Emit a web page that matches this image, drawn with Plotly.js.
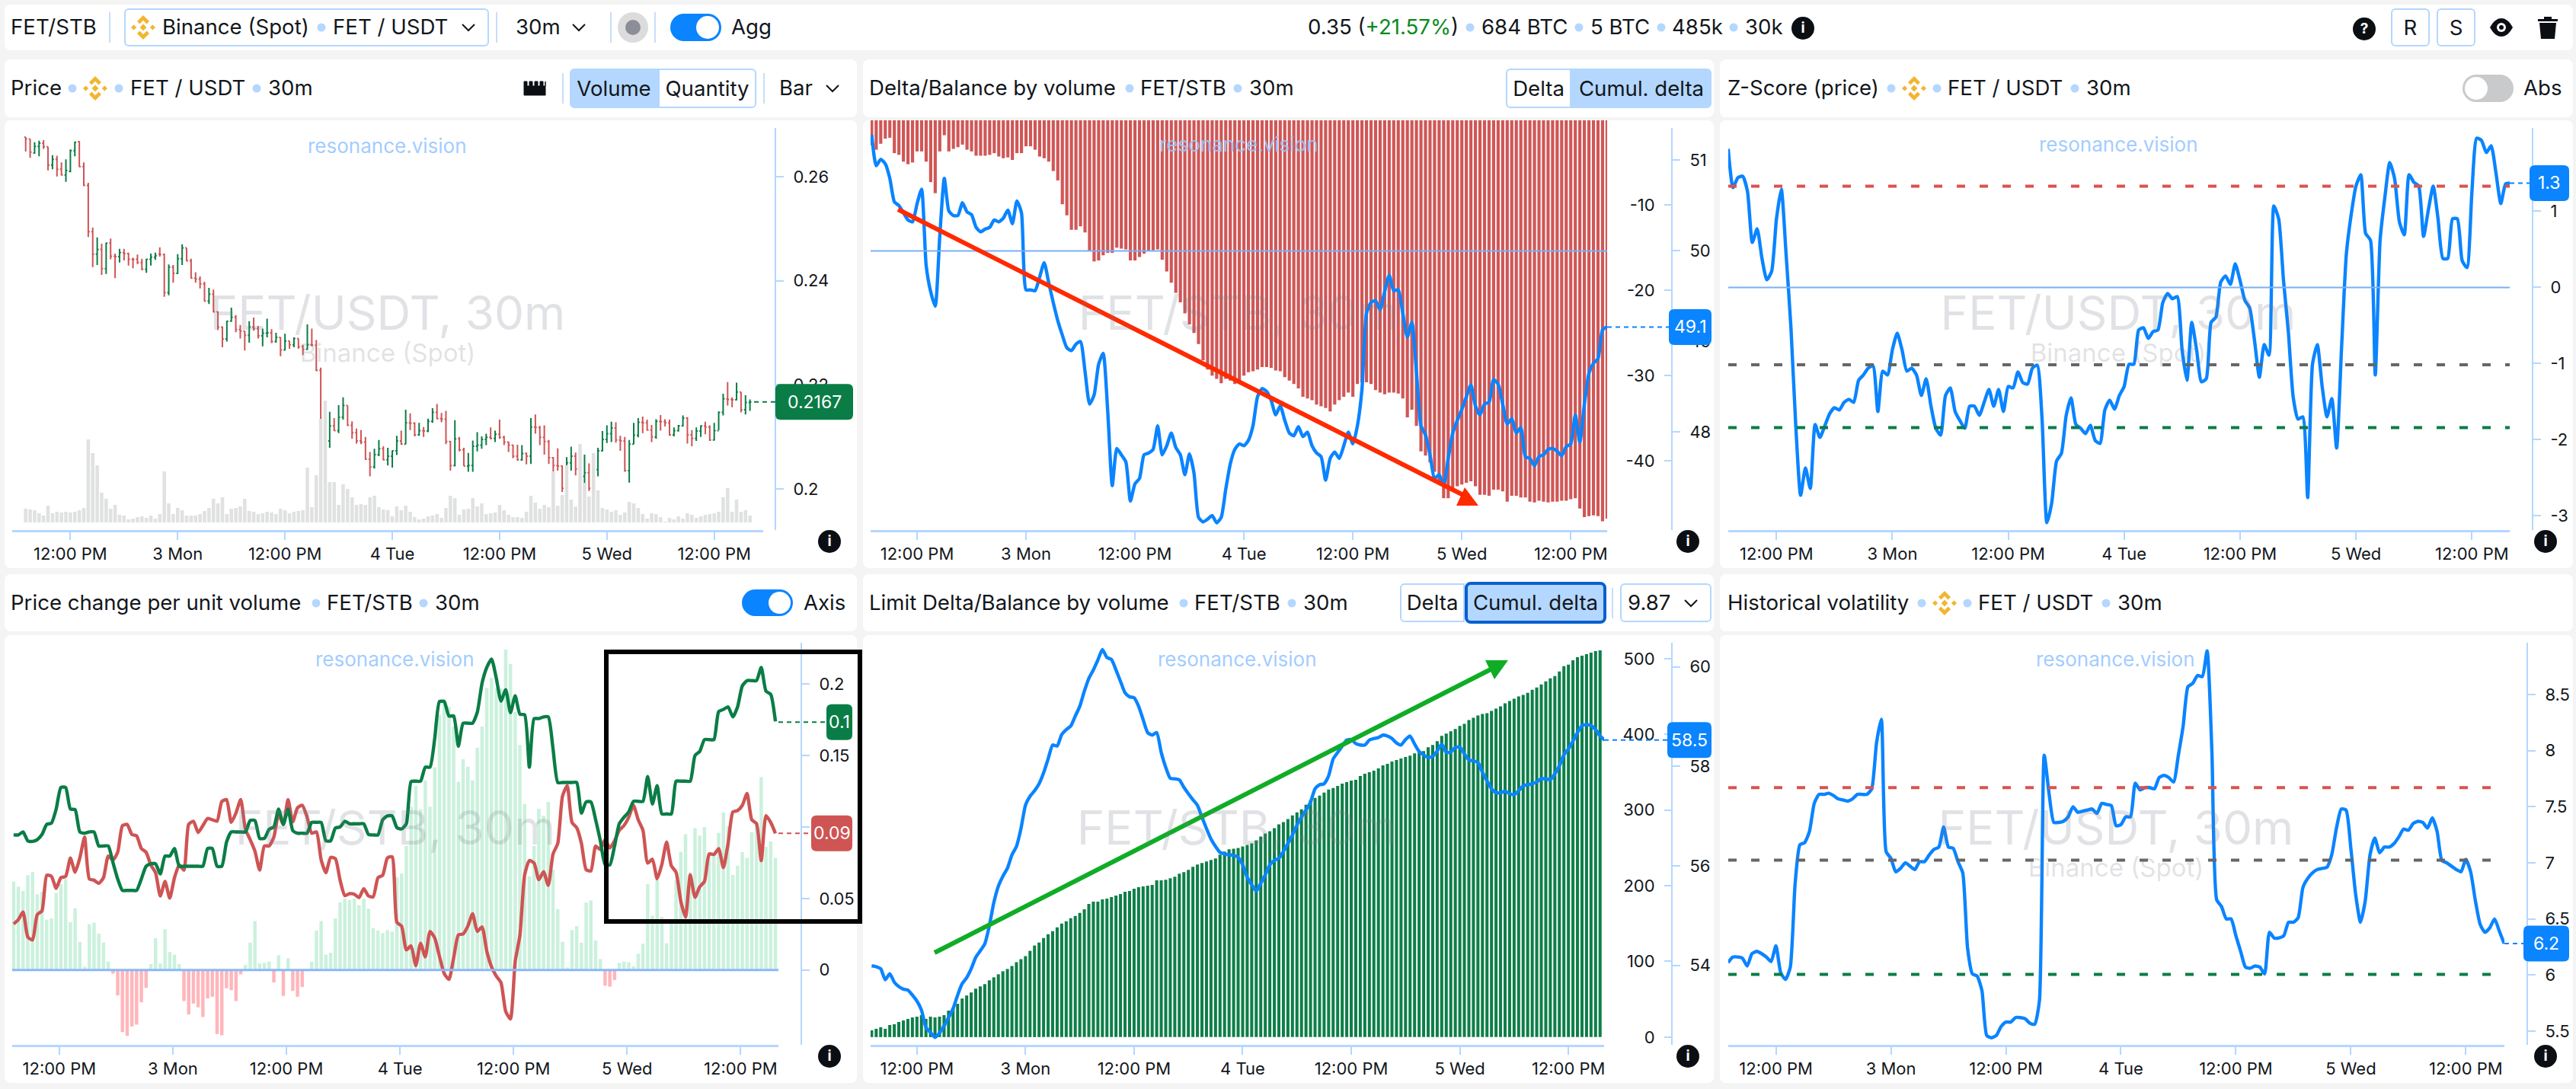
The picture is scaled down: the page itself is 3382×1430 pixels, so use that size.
<!DOCTYPE html>
<html><head><meta charset="utf-8">
<script src="https://cdn.plot.ly/plotly-3.0.1.min.js"></script>
<style>
html,body{margin:0;padding:0;background:#f4f4f4;width:3382px;height:1430px;overflow:hidden;font-family:Inter,'Noto Sans',sans-serif;color:#12161b}
.a{position:absolute}
.t{position:absolute;white-space:nowrap;transform:translateY(-50%);line-height:1}
.c{background:#fff;position:absolute;border-radius:8px}
.d{position:absolute;width:11px;height:11px;border-radius:50%;background:#b3d7ff;transform:translate(-50%,-50%)}
.s{position:absolute;width:2px;background:#c6def8}
.w{position:absolute;white-space:nowrap;transform:translate(-50%,-50%);color:rgba(120,125,135,.22);line-height:1;z-index:3;pointer-events:none}
.bars path{shape-rendering:geometricPrecision !important}
</style></head><body>
<div id="root"></div>
<script>
// ---------- category axis ----------
const tickIndex=[10,34,58,82,106,130,154];
const tickLabels=['12:00 PM','3 Mon','12:00 PM','4 Tue','12:00 PM','5 Wed','12:00 PM'];

// ---------- price (units of 0.0001 USDT) ----------
const priceHigh=[2676,2672,2666,2669,2670,2657,2641,2640,2627,2633,2652,2667,2668,2627,2588,2502,2483,2471,2473,2481,2452,2461,2461,2454,2444,2450,2442,2442,2452,2454,2464,2452,2431,2430,2451,2470,2463,2442,2416,2408,2398,2386,2383,2341,2312,2323,2348,2334,2315,2303,2322,2329,2313,2308,2327,2307,2300,2291,2298,2284,2291,2289,2277,2316,2308,2286,2233,2138,2148,2136,2161,2176,2160,2130,2116,2113,2100,2071,2077,2094,2082,2079,2074,2102,2112,2152,2145,2128,2127,2119,2135,2155,2163,2146,2150,2092,2132,2100,2079,2069,2093,2109,2101,2106,2118,2112,2133,2102,2091,2085,2085,2084,2070,2136,2143,2121,2122,2094,2061,2078,2045,2061,2081,2070,2045,2066,2049,2045,2079,2111,2122,2129,2128,2102,2100,2094,2127,2136,2139,2133,2123,2134,2142,2134,2133,2118,2123,2141,2138,2113,2118,2122,2129,2122,2127,2149,2183,2205,2176,2204,2186,2180,2172];
const priceLow=[2648,2636,2644,2639,2653,2612,2614,2600,2602,2590,2608,2639,2618,2582,2484,2426,2430,2411,2413,2441,2405,2435,2439,2429,2424,2432,2420,2415,2429,2440,2446,2369,2372,2396,2413,2430,2437,2404,2396,2385,2360,2355,2339,2305,2272,2283,2321,2301,2289,2266,2281,2304,2289,2274,2291,2280,2281,2255,2266,2269,2272,2269,2257,2267,2274,2226,2095,2009,2079,2111,2107,2133,2121,2096,2087,2086,2056,2024,2039,2063,2055,2045,2041,2065,2085,2086,2113,2101,2102,2100,2109,2127,2134,2128,2086,2035,2043,2072,2044,2033,2033,2072,2077,2084,2095,2090,2096,2084,2071,2059,2054,2054,2047,2048,2106,2084,2066,2048,1991,2035,1994,1955,2035,2026,1938,1997,1996,1943,2024,2072,2088,2090,2089,2073,2033,2012,2086,2099,2107,2112,2090,2096,2112,2120,2102,2101,2110,2120,2087,2082,2092,2100,2105,2092,2093,2113,2141,2160,2157,2170,2147,2143,2150];
const priceOpen=[2676,2672,2645,2658,2664,2657,2622,2633,2614,2603,2610,2650,2667,2619,2583,2494,2451,2460,2423,2472,2447,2446,2454,2452,2441,2441,2435,2422,2441,2445,2451,2450,2377,2426,2414,2442,2463,2438,2405,2403,2394,2361,2374,2340,2311,2288,2322,2330,2306,2303,2295,2311,2308,2294,2299,2300,2283,2291,2267,2284,2277,2289,2273,2268,2277,2276,2228,2108,2092,2121,2112,2138,2160,2122,2108,2092,2090,2057,2042,2066,2077,2056,2063,2073,2092,2086,2127,2126,2104,2112,2111,2130,2147,2135,2134,2091,2045,2096,2075,2044,2045,2082,2084,2095,2099,2097,2105,2099,2090,2084,2063,2056,2068,2063,2119,2118,2099,2091,2060,2045,2044,2001,2050,2063,2038,2024,2031,2001,2037,2073,2095,2106,2117,2094,2092,2035,2086,2103,2128,2127,2113,2100,2130,2129,2127,2104,2112,2121,2136,2104,2097,2111,2121,2119,2094,2112,2147,2173,2172,2171,2186,2152,2166];
const priceClose=[2672,2647,2658,2664,2657,2622,2633,2614,2603,2612,2650,2666,2619,2583,2494,2451,2460,2423,2472,2447,2446,2454,2452,2441,2441,2435,2422,2441,2445,2448,2450,2377,2426,2414,2442,2463,2438,2405,2403,2394,2361,2374,2340,2311,2288,2322,2330,2306,2303,2295,2311,2308,2294,2299,2300,2283,2291,2267,2284,2277,2289,2273,2268,2277,2276,2228,2108,2092,2121,2112,2138,2160,2122,2108,2092,2090,2057,2042,2066,2077,2056,2063,2073,2092,2086,2127,2126,2104,2112,2111,2130,2147,2135,2134,2091,2045,2096,2075,2044,2045,2082,2084,2095,2099,2097,2105,2099,2090,2084,2063,2056,2068,2063,2119,2118,2099,2091,2060,2045,2044,2001,2050,2063,2038,2024,2031,2001,2037,2073,2095,2106,2117,2094,2092,2035,2086,2103,2128,2127,2113,2100,2130,2129,2127,2104,2112,2121,2136,2104,2097,2111,2121,2119,2094,2112,2147,2173,2172,2171,2186,2152,2166,2167];
const volume=[18,17,16,12,9,22,12,14,13,14,13,14,16,19,109,91,75,39,31,18,23,10,9,4,5,7,8,6,9,5,11,67,25,11,19,16,9,9,9,11,15,19,31,25,33,11,18,19,21,31,15,14,11,12,14,13,11,18,16,12,14,15,16,72,20,62,136,160,53,53,23,50,44,33,23,24,23,33,35,20,17,16,8,21,16,22,14,7,4,5,8,9,11,6,19,35,32,10,17,18,32,21,25,11,12,13,23,16,10,7,7,6,14,35,26,18,23,20,67,22,36,75,30,21,103,52,34,91,42,19,17,14,16,10,13,27,25,19,11,5,12,11,7,1,6,4,8,5,12,10,6,8,10,11,12,14,33,45,14,30,14,16,9];

// ---------- delta / balance ----------
const cumDelta=[-3.0,-3.5,-2.8,-2.2,-2.1,-3.9,-4.1,-4.9,-5.2,-5.0,-3.7,-3.7,-4.9,-7.3,-8.6,-3.7,-1.8,-3.7,-3.4,-3.2,-2.9,-3.5,-3.7,-4.2,-4.2,-4.2,-4.1,-3.9,-4.3,-4.5,-4.4,-4.7,-3.9,-3.9,-3.1,-3.1,-3.5,-4.3,-4.5,-4.9,-6.0,-7.1,-9.9,-11.2,-12.9,-12.9,-12.5,-13.2,-15.4,-16.6,-16.5,-15.9,-15.6,-15.6,-15.0,-15.1,-15.2,-16.5,-16.5,-16.1,-15.7,-15.4,-15.3,-15.2,-16.4,-17.8,-19.1,-20.3,-21.4,-22.7,-24.0,-25.0,-26.3,-28.2,-29.3,-30.0,-30.4,-30.9,-30.4,-30.6,-31.0,-30.8,-30.0,-29.6,-29.5,-29.3,-29.0,-29.0,-29.1,-29.4,-29.5,-30.2,-30.6,-31.0,-31.5,-32.5,-32.7,-32.9,-33.4,-33.6,-33.8,-34.2,-33.4,-32.9,-32.5,-32.0,-32.5,-31.0,-30.8,-30.8,-31.0,-31.7,-32.0,-32.2,-32.0,-32.0,-32.1,-32.7,-34.9,-34.0,-35.9,-38.9,-39.4,-40.2,-41.3,-42.4,-44.4,-44.4,-43.2,-43.0,-42.8,-42.6,-42.4,-43.0,-44.0,-44.0,-44.1,-43.4,-43.4,-43.6,-44.8,-44.1,-44.1,-44.3,-44.3,-44.8,-44.9,-44.7,-44.8,-44.9,-44.8,-44.8,-44.7,-44.7,-44.5,-44.4,-45.6,-46.6,-46.5,-46.4,-46.5,-47.1,-46.8];
const balance=[51.28,50.94,51.01,50.96,50.80,50.54,50.50,50.42,50.34,50.32,50.52,50.68,49.84,49.55,49.39,50.16,50.80,50.44,50.39,50.39,50.53,50.43,50.40,50.26,50.21,50.24,50.26,50.34,50.32,50.36,50.45,50.30,50.55,50.42,49.57,49.57,49.56,49.71,49.87,49.65,49.43,49.23,49.07,48.93,48.90,48.97,49.00,48.67,48.31,48.41,48.75,48.87,48.23,47.41,47.82,47.75,47.67,47.24,47.43,47.49,47.75,47.77,47.81,48.07,47.75,47.85,47.99,47.83,47.75,47.53,47.76,47.55,47.06,47.01,47.04,47.08,47.00,47.06,47.37,47.65,47.81,47.87,47.85,47.91,48.07,48.39,48.48,48.45,48.35,48.19,48.29,48.13,47.99,47.96,48.06,47.95,48.00,47.85,47.77,47.73,47.47,47.71,47.78,47.71,47.85,48.00,47.87,48.07,48.47,49.31,49.43,49.45,49.35,49.55,49.73,49.56,49.57,49.31,49.05,49.21,48.67,48.07,47.97,47.75,47.49,47.53,47.41,47.71,47.99,48.13,48.25,48.39,48.52,48.29,48.19,48.31,48.33,48.58,48.53,48.31,48.09,48.15,47.99,48.05,47.73,47.71,47.63,47.73,47.75,47.81,47.82,47.79,47.74,47.84,47.87,48.19,47.89,48.31,48.65,48.76,48.81,49.13,49.16];

// ---------- z-score ----------
const zScore=[1.82,1.31,1.44,1.46,1.26,.59,.77,.38,.10,.21,.90,1.29,.43,-.53,-1.82,-2.73,-2.37,-2.64,-1.80,-1.97,-1.82,-1.66,-1.58,-1.61,-1.51,-1.47,-1.51,-1.22,-1.15,-1.06,-1.03,-1.63,-1.10,-1.15,-.82,-.60,-.82,-1.10,-1.06,-1.15,-1.42,-1.20,-1.56,-1.85,-1.94,-1.42,-1.32,-1.63,-1.75,-1.85,-1.56,-1.56,-1.68,-1.51,-1.34,-1.56,-1.34,-1.63,-1.30,-1.32,-1.11,-1.25,-1.27,-1.06,-1.02,-1.73,-3.09,-2.83,-2.28,-2.18,-1.68,-1.45,-1.80,-1.85,-1.92,-1.81,-2.01,-2.05,-1.61,-1.48,-1.60,-1.42,-1.30,-1.01,-1.01,-.56,-.53,-.67,-.58,-.56,-.20,-.08,-.15,-.12,-.82,-1.22,-.46,-.82,-1.24,-1.20,-.46,-.39,.07,.15,.04,.31,.09,-.17,-.27,-.70,-1.18,-.75,-.89,1.07,.90,.09,-.58,-1.44,-1.73,-1.70,-2.76,-1.01,-.75,-1.30,-1.70,-1.46,-2.11,-.82,.43,.95,1.33,1.48,.71,.62,-1.15,.62,1.19,1.64,1.43,.86,.69,1.48,1.38,1.33,.67,1.02,1.33,.90,.38,.38,.90,.90,.35,.26,1.24,1.96,1.93,1.77,1.86,1.50,1.10,1.36,1.37];
const zLevels=[1.33,-1.015,-1.84];

// ---------- price change per unit volume ----------
const ppvBars=[.0619,.0583,.0553,.0663,.0685,.0530,.0548,.0352,.0361,.0539,.0601,.0637,.0334,.0432,.0197,.0023,.0320,.0331,.0254,.0192,.0059,-.0025,-.0178,-.0434,-.0461,-.0395,-.0382,-.0226,-.0125,.0041,.0222,.0046,.0286,.0126,.0108,.0041,-.0217,-.0311,-.0235,-.0261,-.0329,-.0199,-.0187,-.0448,-.0457,-.0128,-.0141,-.0217,-.0030,.0036,.0192,.0343,.0046,.0050,.0059,-.0087,.0103,-.0181,.0082,-.0146,-.0187,-.0119,.0005,.0059,.0276,.0343,.0108,.0121,.0361,.0473,.0500,.0489,.0500,.0454,.0498,.0429,.0293,.0276,.0258,.0279,.0269,
.0647,.0674,.0867,.1143,.1290,.1125,.1327,.1143,.1419,.1786,.1896,.1841,.1703,.1318,.1474,.1422,.1327,.1556,.1703,.1974,.2043,.1970,.1970,.2242,.2141,.1805,.1575,.1161,.0656,.0867,.1128,.1079,.1176,.0702,.0426,.0197,.0018,.0279,.0307,.0191,.0472,.0487,.0206,.0077,-.0110,-.0116,-.0070,.0050,.0059,.0055,.0026,.0114,.0184,.0601,.0380,.0628,.0371,.0187,.0356,.0628,.0827,.0950,.0684,.0992,.0941,.1000,.0821,.0821,.0959,.1103,.1005,.0665,.0730,.0825,.0785,.0965,.1033,.1349,.0862,.0900,.0785];
const ppvGreen=[.0945,.0945,.0966,.0904,.0900,.0912,.0948,.1019,.1028,.1126,.1277,.1277,.1126,.1122,.0966,.0957,.0966,.0966,.0868,.0868,.0868,.0752,.0637,.0557,.0557,.0557,.0557,.0637,.0726,.0743,.0743,.0672,.0797,.0797,.0850,.0726,.0726,.0726,.0726,.0726,.0726,.0850,.0850,.0726,.0726,.0895,.0966,.0966,.0966,.0966,.1046,.1046,.0921,.0921,.0984,.1001,.1126,.1019,.1126,.0975,.0957,.0957,.0957,.1033,.1033,.1033,.0904,.0904,.0993,.1001,.1041,.1023,.1023,.1023,.1023,.0948,.0945,.0945,.1051,.1078,.1078,
.0996,.0987,.1024,.1318,.1321,.1321,.1419,.1419,.1621,.1878,.1878,.1777,.1777,.1566,.1727,.1727,.1727,.1804,.2007,.2117,.2176,.2043,.1882,.1961,.1801,.1918,.1790,.1786,.1419,.1759,.1759,.1771,.1771,.1547,.1312,.1312,.1312,.1312,.1312,.1097,.1176,.1176,.1051,.0904,.0739,.0735,.0867,.1024,.1069,.1106,.1180,.1180,.1180,.1354,.1161,.1290,.1092,.1092,.1092,.1321,.1321,.1321,.1321,.1501,.1529,.1612,.1612,.1612,.1808,.1823,.1841,.1771,.1841,.1988,.2025,.2025,.2025,.2117,.1951,.1929,.1740];
const ppvRed=[.0322,.0352,.0406,.0231,.0210,.0388,.0414,.0663,.0655,.0571,.0646,.0655,.0783,.0685,.0784,.0930,.0637,.0628,.0607,.0646,.0797,.0770,.0824,.1010,.1019,.0948,.0939,.0850,.0824,.0735,.0681,.0518,.0619,.0503,.0646,.0735,.0699,.1019,.1041,.0962,.1010,.1060,.1051,.1041,.1179,.1192,.1033,.1099,.1192,.0984,.0912,.0832,.0699,.0868,.0868,.0930,.1090,.1019,.1192,.1037,.1135,.1153,.1073,.0957,.0966,.0770,.0681,.0788,.0779,.0628,.0521,.0534,.0530,.0507,.0569,.0518,.0512,.0646,.0663,.0784,.0792,
.0334,.0307,.0141,.0169,.0031,.0187,.0092,.0270,.0224,.0096,-.0024,-.0066,.0086,.0246,.0252,.0307,.0393,.0270,.0301,.0132,.0022,-.0042,-.0088,-.0290,-.0342,.0059,.0243,.0665,.0766,.0748,.0632,.0687,.0592,.0812,.0886,.1216,.1290,.1033,.0996,.0886,.0702,.0693,.0867,.0843,.0913,.0854,.0904,.0978,.1011,.1069,.1152,.1051,.0978,.0748,.0775,.0638,.0739,.0895,.0729,.0684,.0481,.0371,.0665,.0509,.0582,.0619,.0812,.0809,.0849,.0717,.0886,.1106,.1115,.1152,.1235,.1051,.1024,.0766,.1079,.1033,.0956];

// ---------- limit delta / balance ----------
const limitCum=[9,11,13,11,16,17,20,22,24,26,27,29,24,27,26,27,29,35,39,44,51,55,59,64,67,70,75,79,83,87,90,94,99,103,107,114,121,125,131,136,140,145,150,153,157,160,164,169,176,179,179,182,183,185,187,189,192,193,196,198,199,200,201,207,207,208,210,212,216,218,221,225,228,230,232,234,236,241,245,248,249,250,252,254,256,260,265,269,272,276,281,284,288,293,297,301,307,313,316,319,323,327,329,332,335,337,339,340,345,348,350,352,355,359,361,364,366,368,370,372,375,377,378,383,386,391,398,401,404,407,411,414,419,422,425,427,428,431,434,437,441,444,447,450,452,455,459,462,466,470,474,477,483,490,492,498,502,504,506,508,510,511];
const limitBalance=[53.99,53.97,53.93,53.71,53.83,53.66,53.57,53.52,53.50,53.40,53.28,53.10,52.75,52.65,52.55,52.64,52.78,52.95,53.13,53.40,53.63,53.75,53.93,54.16,54.29,54.43,54.79,55.26,55.59,55.79,55.95,56.22,56.39,56.75,57.22,57.40,57.51,57.65,57.87,58.15,58.43,58.41,58.64,58.74,58.81,59.01,59.21,59.51,59.77,59.94,60.14,60.35,60.19,60.15,59.94,59.71,59.48,59.40,59.38,59.21,58.94,58.68,58.63,58.68,58.28,57.98,57.76,57.75,57.73,57.58,57.45,57.33,57.22,56.98,56.75,56.54,56.39,56.27,56.24,56.22,56.21,56.17,56.02,55.77,55.62,55.49,55.65,55.82,56.02,56.11,56.15,56.29,56.45,56.62,56.82,56.98,57.12,57.28,57.55,57.63,57.65,57.81,58.15,58.28,58.41,58.53,58.54,58.46,58.43,58.43,58.53,58.56,58.58,58.63,58.61,58.56,58.47,58.43,58.54,58.61,58.45,58.30,58.23,58.18,58.20,58.31,58.45,58.28,58.29,58.38,58.39,58.25,58.13,58.11,58.08,57.88,57.71,57.55,57.47,57.47,57.50,57.45,57.43,57.51,57.61,57.63,57.65,57.69,57.75,57.75,57.73,57.85,58.01,58.23,58.35,58.51,58.68,58.82,58.84,58.82,58.74,58.61,58.53];

// ---------- historical volatility ----------
const histVol=[6.11,6.16,6.16,6.15,6.08,6.19,6.21,6.19,6.16,6.12,6.26,6.02,5.96,6.07,6.81,7.16,7.18,7.28,7.53,7.61,7.61,7.62,7.60,7.57,7.56,7.55,7.57,7.61,7.61,7.61,7.66,8.07,8.28,7.10,7.04,6.92,6.95,7.00,6.97,6.94,7.01,7.01,7.07,7.12,7.14,7.32,7.14,7.13,7.01,6.91,6.24,6.01,5.99,5.86,5.46,5.44,5.46,5.54,5.58,5.58,5.62,5.62,5.61,5.57,5.56,5.77,7.96,7.62,7.36,7.36,7.37,7.41,7.50,7.45,7.46,7.47,7.48,7.44,7.53,7.52,7.51,7.33,7.34,7.41,7.41,7.71,7.65,7.67,7.67,7.66,7.76,7.78,7.76,7.72,7.96,8.22,8.57,8.60,8.67,8.66,8.89,7.99,6.67,6.61,6.50,6.50,6.35,6.21,6.07,6.06,6.08,6.07,6.01,6.38,6.33,6.33,6.35,6.47,6.47,6.51,6.78,6.86,6.91,6.94,6.95,6.96,7.07,7.31,7.48,7.47,7.13,6.72,6.47,6.66,7.07,7.22,7.09,7.14,7.14,7.17,7.23,7.30,7.29,7.35,7.37,7.36,7.31,7.40,7.28,7.02,7.00,6.97,6.94,6.92,7.03,6.92,6.66,6.45,6.38,6.42,6.50,6.39,6.28];
const volLevels=[7.67,7.024,6.005];

// ---------- page furniture ----------
const root=document.getElementById('root');
function add(h){root.insertAdjacentHTML('beforeend',h)}
const FS=27.6;
function T(x,y,s,o={}){add(`<div class="t" style="left:${x}px;top:${y}px;font-size:${o.size||FS}px;color:${o.color||'#12161b'}">${s}</div>`)}
function dot(x,y){add(`<div class="d" style="left:${x}px;top:${y}px"></div>`)}
function sep(x,y,h){add(`<div class="s" style="left:${x-1}px;top:${y-h/2}px;height:${h}px"></div>`)}
function card(l,t,r,b){add(`<div class="c" style="left:${l}px;top:${t}px;width:${r-l}px;height:${b-t}px"></div>`)}
function binance(x,y){add(`<svg class="a" style="left:${x-16}px;top:${y-16}px" width="32" height="32" viewBox="0 0 32 32"><g fill="#f3b52f"><path d="M16 0l8 8-3.4 3.4L16 6.8l-4.6 4.6L8 8z"/><path d="M16 32l8-8-3.4-3.4-4.6 4.6-4.6-4.6L8 24z"/><path d="M0 16l3.6-3.6L7.2 16l-3.6 3.6z"/><path d="M24.8 16l3.6-3.6L32 16l-3.6 3.6z"/><path d="M16 11.6l4.4 4.4-4.4 4.4-4.4-4.4z"/></g></svg>`)}
function chev(x,y){add(`<svg class="a" style="left:${x-10}px;top:${y-6}px" width="20" height="12"><polyline points="2,2 10,10 18,2" fill="none" stroke="#12161b" stroke-width="2"/></svg>`)}
function toggle(l,t,r,b,on){const h=b-t,k=h-6;add(`<div class="a" style="left:${l}px;top:${t}px;width:${r-l}px;height:${h}px;border-radius:${h/2}px;background:${on?'#0a84ff':'#c9cacc'}"><div class="a" style="left:${on?r-l-k-3:3}px;top:3px;width:${k}px;height:${k}px;border-radius:50%;background:#fff"></div></div>`)}
function info(x,y){add(`<div class="a" style="left:${x-15}px;top:${y-15}px;width:30px;height:30px;border-radius:50%;background:#0b0f14;color:#fff;font-size:19px;font-weight:700;line-height:30px;text-align:center;z-index:6">i</div>`)}
function btn(l,t,r,b,s,o={}){add(`<div class="a" style="box-sizing:border-box;left:${l}px;top:${t}px;width:${r-l}px;height:${b-t}px;line-height:${b-t-(o.bw||2)*2}px;text-align:center;font-size:${FS}px;background:${o.on?'#b3d7ff':'#fff'};border:${o.bw||2}px solid ${o.bc||'#b3d7ff'};border-radius:${o.rad||'6px'}">${s}</div>`)}

// top bar
card(6,6,3378,66);
T(14,36,'FET/STB');sep(144,36,40);
add(`<div class="a" style="box-sizing:border-box;left:163px;top:11px;width:479px;height:50px;border:2px solid #b3d7ff;border-radius:6px"></div>`);
binance(188,36);T(213,36,'Binance (Spot)');dot(422,36);T(437,36,'FET / USDT');chev(615,36);sep(652,36,40);
T(677,36,'30m');chev(760,36);sep(802,36,40);
add(`<div class="a" style="left:811px;top:16px;width:40px;height:40px;border-radius:50%;background:#dcdcdc"></div><div class="a" style="left:821px;top:26px;width:20px;height:20px;border-radius:50%;background:#8b8e96"></div>`);
sep(860,36,40);toggle(880,18,947,54,true);T(960,36,'Agg');
T(1717,36,'0.35 (<span style="color:#0a8a1e">+21.57%</span>)');dot(1930,36);T(1945,36,'684 BTC');dot(2073,36);T(2088,36,'5 BTC');dot(2181,36);T(2195,36,'485k');dot(2276,36);T(2291,36,'30k');info(2367,37);
add(`<div class="a" style="left:3089px;top:23px;width:30px;height:30px;border-radius:50%;background:#0b0f14;color:#fff;font-size:19px;font-weight:700;line-height:30px;text-align:center;z-index:7">?</div>`);
btn(3139,11,3190,61,'R');btn(3199,11,3250,61,'S');
add(`<svg class="a" style="left:3268px;top:22px" width="32" height="28" viewBox="0 0 32 28"><path d="M1 14C6 5 11 2 16 2s10 3 15 12c-5 9-10 12-15 12S6 23 1 14z" fill="#0b0f14"/><circle cx="16" cy="14" r="6" fill="#fff"/><circle cx="16" cy="14" r="3" fill="#0b0f14"/></svg>`);
add(`<svg class="a" style="left:3331px;top:20px" width="28" height="32" viewBox="0 0 28 32"><path d="M9 2h10v3h8v3H1V5h8zM3 10h22l-2 21H5z" fill="#0b0f14"/></svg>`);

// headers row 1
card(6,78,1125,154);card(1133,78,2250,154);card(2258,78,3378,154);
T(14,116,'Price');dot(95,116);binance(125,116);dot(156,116);T(171,116,'FET / USDT');dot(337,116);T(352,116,'30m');
add(`<svg class="a" style="left:687px;top:106px" width="31" height="20" viewBox="0 0 31 20"><path d="M1 1h4v6h3V1h4v6h3V1h4v6h3V1h4v6h3V1v18H1z" fill="#0b0f14" stroke="#0b0f14"/></svg>`);
sep(739,116,40);btn(748,90,864,142,'Volume',{on:true,rad:'6px 0 0 6px'});btn(864,90,993,142,'Quantity',{rad:'0 6px 6px 0'});sep(1003,116,40);T(1023,116,'Bar');chev(1093,116);
T(1141,116,'Delta/Balance by volume');dot(1483,116);T(1497,116,'FET/STB');dot(1625,116);T(1640,116,'30m');
btn(1977,90,2063,142,'Delta',{rad:'6px 0 0 6px'});btn(2063,90,2247,142,'Cumul. delta',{on:true,rad:'0 6px 6px 0'});
T(2268,116,'Z-Score (price)');dot(2483,116);binance(2513,116);dot(2543,116);T(2557,116,'FET / USDT');dot(2724,116);T(2739,116,'30m');
toggle(3233,98,3300,134,false);T(3313,116,'Abs');
// headers row 2
card(6,754,1125,829);card(1133,754,2250,829);card(2258,754,3378,829);
T(14,792,'Price change per unit volume');dot(415,792);T(429,792,'FET/STB');dot(556,792);T(571,792,'30m');
toggle(974,774,1041,809,true);T(1055,792,'Axis');
T(1141,792,'Limit Delta/Balance by volume');dot(1554,792);T(1568,792,'FET/STB');dot(1696,792);T(1711,792,'30m');
btn(1838,766,1923,817,'Delta',{rad:'6px 0 0 6px'});btn(1923,764,2109,819,'Cumul. delta',{on:true,bc:'#0760cf',bw:4,rad:'8px'});sep(2117,792,40);
btn(2127,766,2247,817,'');T(2137,792,'9.87');chev(2220,792);
T(2268,792,'Historical volatility');dot(2523,792);binance(2553,792);dot(2583,792);T(2597,792,'FET / USDT');dot(2765,792);T(2780,792,'30m');

// ---------- charts ----------
const AX='#b3d7ff',BLUE='#0a84ff',GRN='#0a7d46',RED='#cf5454',ZERO='#7ab0f5';
const FONT={family:'Inter, Noto Sans, sans-serif',size:22,color:'#12161b'};
function idx(a,off=0){return a.map((_,i)=>i+off)}
function chart(id,p){
  const [cl,ct,cr,cb]=p.card,[L,R,A,B]=p.plot,W=A-L,H=B-ct;
  const px=x=>(x-L)/W, py=y=>1-(y-ct)/H;
  card(cl,ct,cr,cb);
  (p.marks||[]).forEach(m=>add(`<div class="w" style="left:${m[0]}px;top:${m[1]}px;font-size:${m[3]}px">${m[2]}</div>`));
  add(`<div class="a" id="${id}" style="left:${cl}px;top:${ct}px;width:${cr-cl}px;height:${cb-ct}px;z-index:2"></div>`);
  const xr=[10-(p.tick[0]-L)/p.tick[1],10+(R-p.tick[0])/p.tick[1]];
  const xaxis={domain:[0,(R-L)/W],range:xr,tickmode:'array',tickvals:tickIndex,ticktext:tickLabels,showgrid:false,zeroline:false,showline:true,linecolor:AX,linewidth:3,ticks:'outside',ticklen:10,tickwidth:2,tickcolor:AX,tickfont:FONT,anchor:'y',fixedrange:true,rangeslider:{visible:false}};
  const baseY={showgrid:false,zeroline:false,showline:false,ticks:'outside',ticklen:10,tickwidth:2,tickcolor:AX,tickfont:FONT,anchor:'free',position:1,tickmode:'array',fixedrange:true,ticklabelstandoff:8};
  const shapes=[{type:'line',xref:'paper',yref:'paper',x0:1,x1:1,y0:0,y1:py(p.lineTop),line:{color:AX,width:2}}];
  const ann=[{xref:'paper',yref:'paper',x:px(p.site[0]),y:py(p.site[1]),text:'resonance.vision',showarrow:false,xanchor:'center',yanchor:'middle',font:{family:FONT.family,size:26,color:'rgba(150,198,255,.9)'}}];
  const pill=(yref,v,l,r,h,txt,col,lastPx)=>{
    const w=r-l,rr=7,hh=h/2;
    shapes.push({type:'line',xref:'paper',yref,x0:px(lastPx),x1:px(l),y0:v,y1:v,line:{color:col,width:2,dash:'6px,5px'}});
    shapes.push({type:'path',xref:'paper',yref,xsizemode:'pixel',ysizemode:'pixel',xanchor:px(l),yanchor:v,fillcolor:col,line:{width:0},
      path:`M ${rr} ${-hh} L ${w-rr} ${-hh} Q ${w} ${-hh} ${w} ${-hh+rr} L ${w} ${hh-rr} Q ${w} ${hh} ${w-rr} ${hh} L ${rr} ${hh} Q 0 ${hh} 0 ${hh-rr} L 0 ${-hh+rr} Q 0 ${-hh} ${rr} ${-hh} Z`});
    ann.push({xref:'paper',yref,x:px((l+r)/2),y:v,text:txt,showarrow:false,xanchor:'center',yanchor:'middle',font:{family:FONT.family,size:23,color:'#fff'}});
  };
  const level=(yref,v,col,dash)=>shapes.push({type:'line',xref:'paper',yref,x0:0,x1:(R-L)/W,y0:v,y1:v,line:dash?{color:col,width:4,dash:'11px,19px'}:{color:col,width:2}});
  const arrow=(a,b,tri,col)=>{
    shapes.push({type:'line',xref:'paper',yref:'paper',x0:px(a[0]),y0:py(a[1]),x1:px(b[0]),y1:py(b[1]),line:{color:col,width:6}});
    shapes.push({type:'path',xref:'paper',yref:'paper',fillcolor:col,line:{width:0},path:'M '+tri.map(q=>px(q[0])+' '+py(q[1])).join(' L ')+' Z'});
  };
  p.build({pill,level,arrow,shapes,ann});
  const layout=Object.assign({width:cr-cl,height:cb-ct,margin:{l:L-cl,r:cr-A,t:0,b:cb-B,pad:0},paper_bgcolor:'rgba(0,0,0,0)',plot_bgcolor:'rgba(0,0,0,0)',showlegend:false,barmode:'overlay',bargap:0,hovermode:false,xaxis,shapes,annotations:ann,font:FONT},
    Object.fromEntries(Object.entries(p.axes).map(([k,v])=>[k,Object.assign({},baseY,v)])));
  Plotly.newPlot(id,p.traces,layout,{displayModeBar:false,staticPlot:true});
  info(p.info[0],p.info[1]);
}
const px100=v=>v/1e4;
const lineTrace=(y,yaxis,color,off=0,w=4.4)=>({type:'scatter',mode:'lines',x:idx(y,off),y,yaxis,line:{color,width:w,shape:'spline',smoothing:.55},hoverinfo:'skip'});
const barTrace=(y,yaxis,color,width,off=0)=>({type:'bar',x:idx(y,off),y,yaxis,width,marker:{color,line:{width:0}},hoverinfo:'skip'});

chart('p1',{card:[6,158,1125,746],plot:[16,1002,1018,696],lineTop:168,tick:[92.4,5.87],info:[1089,711],site:[508,191],
  marks:[[509,411,'FET/USDT, 30m',62],[509,463,'Binance (Spot)',33]],
  axes:{yaxis:{range:[.1921,.2708],tickvals:[.2,.22,.24,.26],ticktext:['0.2','0.22','0.24','0.26'],side:'right'},
        yaxis2:{range:[-10,528],overlaying:'y',visible:false,side:'right'}},
  traces:[barTrace(volume,'y2','rgba(224,225,225,.99)',.78),
    {type:'ohlc',x:idx(priceOpen),open:priceOpen.map(px100),high:priceHigh.map(px100),low:priceLow.map(px100),close:priceClose.map(px100),yaxis:'y',tickwidth:.32,
     increasing:{line:{color:GRN,width:2}},decreasing:{line:{color:RED,width:2}},hoverinfo:'skip'}],
  build:o=>o.pill('y',.2167,1018,1120,47,'0.2167',GRN,990)});

chart('p2',{card:[1133,158,2250,746],plot:[1143,2110,2195,696],lineTop:168,tick:[1204,5.96],info:[2216,711],site:[1626,190],
  marks:[[1626,411,'FET/STB, 30m',62]],
  axes:{yaxis:{range:[-48.13,-.05],tickvals:[-40,-30,-20,-10],ticktext:['-40','-30','-20','-10'],side:'left'},
        yaxis2:{range:[46.92,51.44],overlaying:'y',tickvals:[48,49,50,51],ticktext:['48','49','50','51'],side:'right'}},
  traces:[barTrace(cumDelta,'y','rgba(207,84,84,.99)',.7),lineTrace(balance,'y2',BLUE)],
  build:o=>{o.level('y2',50,ZERO,false);o.pill('y2',49.16,2191,2247,47,'49.1',BLUE,2110);
    o.arrow([1179,275],[1925,652],[[1912,664],[1941,664],[1923,640]],'#ff2a00');}});

chart('p3',{card:[2258,158,3378,746],plot:[2269,3295,3325,696],lineTop:168,tick:[2332.3,6.34],info:[3342,711],site:[2781,190],
  marks:[[2781,411,'FET/USDT, 30m',62],[2781,463,'Binance (Spot)',33]],
  axes:{yaxis:{range:[-3.186,2.194],tickvals:[-3,-2,-1,0,1],ticktext:['-3','-2','-1','0','1'],side:'right'}},
  traces:[lineTrace(zScore,'y',BLUE)],
  build:o=>{o.level('y',0,ZERO,false);o.level('y',zLevels[0],'#d9534f',true);o.level('y',zLevels[1],'#666',true);o.level('y',zLevels[2],GRN,true);
    o.pill('y',1.37,3321,3373,47,'1.3',BLUE,3295);}});

chart('p4',{card:[6,834,1125,1422],plot:[16,1022,1052,1372],lineTop:844,tick:[77.8,6.2125],info:[1089,1387],site:[518,866],
  marks:[[519,1087,'FET/STB, 30m',62]],
  axes:{yaxis:{range:[-.05235,.2343],tickvals:[0,.05,.1,.15,.2],ticktext:['0','0.05','0.1','0.15','0.2'],side:'right'}},
  traces:[{type:'bar',x:idx(ppvBars,.35),y:ppvBars,yaxis:'y',width:.72,marker:{color:ppvBars.map(v=>v>=0?'rgba(201,241,220,.99)':'rgba(255,181,186,.99)'),line:{width:0}},hoverinfo:'skip'},
    lineTrace(ppvRed,'y',RED,.35),lineTrace(ppvGreen,'y',GRN,.35)],
  build:o=>{o.shapes.push({type:'line',xref:'paper',yref:'y',x0:0,x1:1006/1036,y0:0,y1:0,line:{color:'#8ab8f8',width:3}});
    o.pill('y',.1734,1085,1119,47,'0.1',GRN,1022);o.pill('y',.0956,1065,1119,47,'0.09',RED,1022);}});

chart('p5',{card:[1133,834,2250,1422],plot:[1143,2106,2195,1372],lineTop:844,tick:[1203.8,5.94],info:[2216,1387],site:[1624,866],
  marks:[[1624,1087,'FET/STB, 30m',62]],
  axes:{yaxis:{range:[-10.2,531.1],tickvals:[0,100,200,300,400,500],ticktext:['0','100','200','300','400','500'],side:'left'},
        yaxis2:{range:[52.4,60.64],overlaying:'y',tickvals:[54,56,58,60],ticktext:['54','56','58','60'],side:'right'}},
  traces:[barTrace(limitCum,'y','rgba(10,125,70,.99)',.68),lineTrace(limitBalance,'y2',BLUE)],
  build:o=>{o.pill('y2',58.53,2189,2247,47,'58.5',BLUE,2106);
    o.arrow([1227,1251],[1959,878],[[1950,867],[1980,867],[1962,892]],'#0fad26');}});

chart('p6',{card:[2258,834,3378,1422],plot:[2269,3288,3318,1372],lineTop:844,tick:[2331.6,6.29],info:[3342,1387],site:[2777,866],
  marks:[[2778,1087,'FET/USDT, 30m',62],[2778,1139,'Binance (Spot)',33]],
  axes:{yaxis:{range:[5.377,9.03],tickvals:[5.5,6,6.5,7,7.5,8,8.5],ticktext:['5.5','6','6.5','7','7.5','8','8.5'],side:'right'}},
  traces:[lineTrace(histVol,'y',BLUE)],
  build:o=>{o.level('y',volLevels[0],'#d9534f',true);o.level('y',volLevels[1],'#666',true);o.level('y',volLevels[2],GRN,true);
    o.pill('y',6.28,3313,3373,47,'6.2',BLUE,3288);}});

// annotation frame drawn over the chart
add(`<div class="a" style="box-sizing:border-box;left:793px;top:853px;width:339px;height:360px;border:6px solid #000;z-index:5"></div>`);
</script>
</body></html>
